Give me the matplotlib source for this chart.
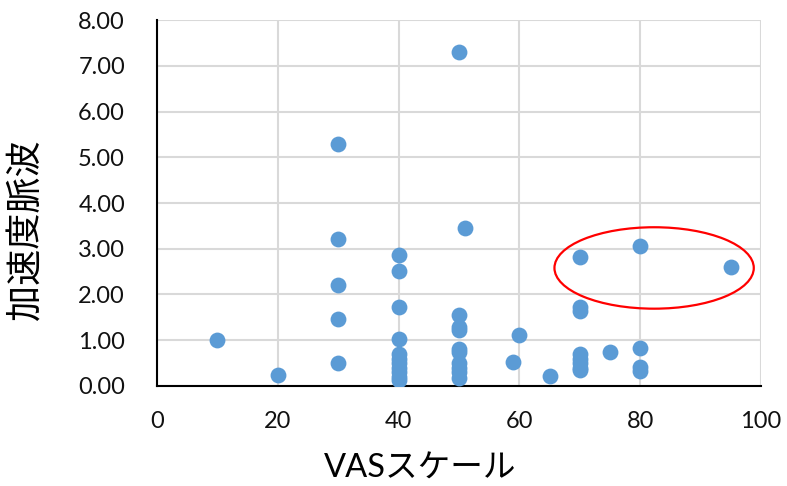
import matplotlib.pyplot as plt
from matplotlib.patches import Ellipse

# VASスケール と 加速度脈波 の値
vas = [10, 20,
       30, 30, 30, 30, 30,
       40, 40, 40, 40, 40, 40, 40, 40, 40, 40, 40,
       50, 50, 50, 50, 50, 50, 50, 50, 50, 50,
       51, 59, 60, 65,
       70, 70, 70, 70, 70, 70, 70, 70,
       75, 80, 80, 80, 80, 95]
apg = [1.00, 0.24,
       5.30, 3.22, 2.20, 1.46, 0.50,
       2.87, 2.52, 1.72, 1.02, 0.70, 0.60, 0.50, 0.40, 0.30, 0.20, 0.14,
       7.30, 1.55, 1.30, 1.22, 0.80, 0.75, 0.50, 0.40, 0.30, 0.17,
       3.45, 0.52, 1.12, 0.21,
       2.83, 1.73, 1.65, 0.70, 0.60, 0.50, 0.40, 0.35,
       0.75, 3.05, 0.84, 0.42, 0.32, 2.60]

x_ticks = [0, 20, 40, 60, 80, 100]
y_ticks = [0, 1, 2, 3, 4, 5, 6, 7, 8]

plt.rcParams['font.family'] = ['Lato', 'Noto Sans CJK JP', 'DejaVu Sans']

fig = plt.figure(figsize=(7.87, 4.86), dpi=100)
ax = fig.add_axes([0.1995, 0.2058, 0.7675, 0.753])

ax.scatter(vas, apg, s=130, color='#5B9BD5', zorder=3, linewidths=0)

# 赤い楕円
ax.add_patch(Ellipse((82.3, 2.58), 33, 1.78, fill=False,
                     edgecolor='#FF0000', linewidth=1.6, zorder=4))

ax.set_xlim(0, 100)
ax.set_ylim(0, 8)
ax.set_xticks(x_ticks)
ax.set_yticks(y_ticks)
ax.set_yticklabels([f'{v:.2f}' for v in y_ticks])
ax.tick_params(labelsize=17, length=0, colors='#111111')
ax.tick_params(axis='y', pad=23)
ax.tick_params(axis='x', pad=18)

ax.grid(True, color='#D9D9D9', linewidth=1.5, zorder=0)
ax.set_axisbelow(True)
for side in ['top', 'right']:
    ax.spines[side].set_visible(False)
for side in ['left', 'bottom']:
    ax.spines[side].set_color('black')
    ax.spines[side].set_linewidth(1.5)

ax.set_xlabel('VASスケール', fontsize=23.5)
ax.set_ylabel('加速度脈波', fontsize=26)
ax.xaxis.set_label_coords(0.435, -0.185)
ax.yaxis.set_label_coords(-0.19, 0.426)

fig.savefig('out.png', dpi=100)
